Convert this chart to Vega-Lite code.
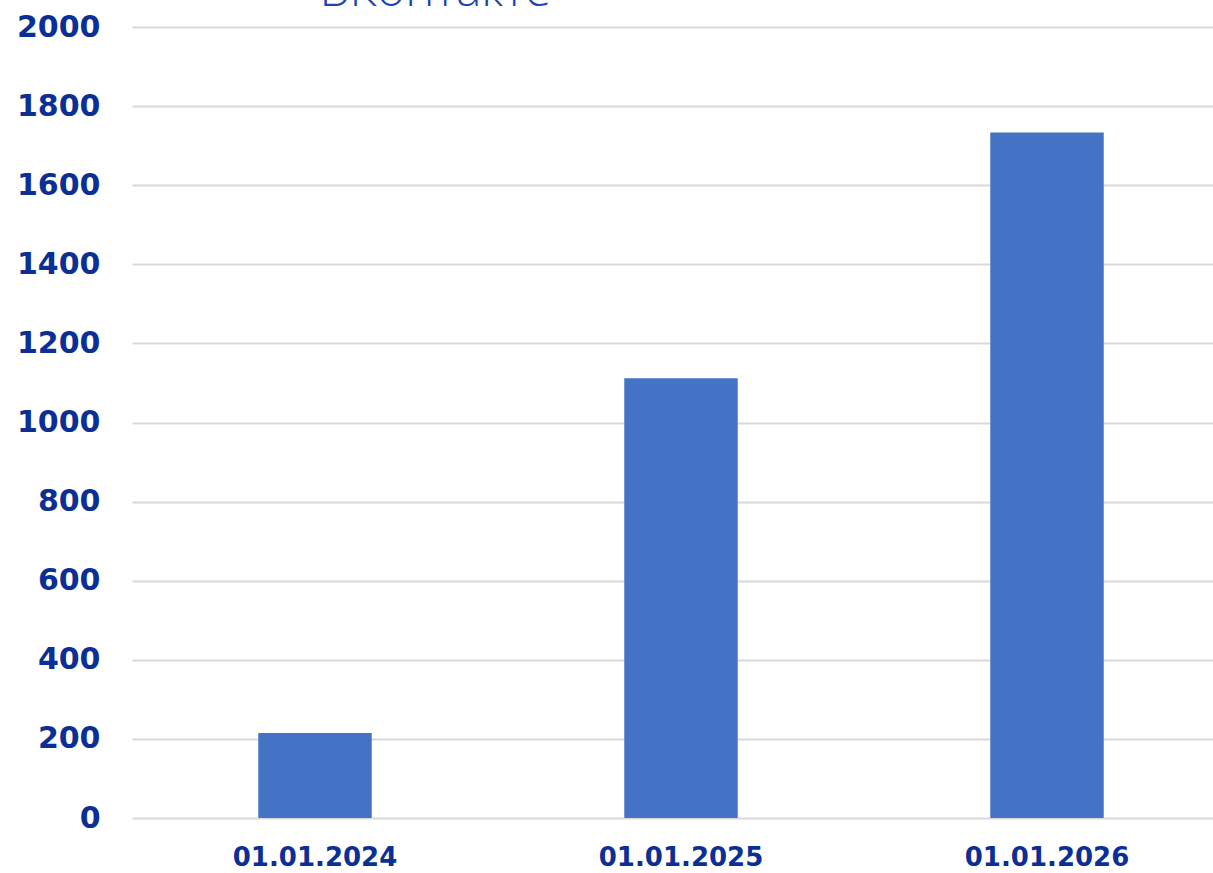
{
  "$schema": "https://vega.github.io/schema/vega-lite/v6.json",
  "autosize": {"type": "none"},
  "padding": {"left": 132, "top": 27, "right": 0, "bottom": 55},
  "width": 1081,
  "height": 791,
  "background": "#ffffff",
  "title": {
    "text": "ВКонтакте",
    "anchor": "start",
    "dx": 303,
    "dy": 42,
    "offset": 0,
    "baseline": "alphabetic",
    "font": "Open Sans",
    "fontSize": 48,
    "fontWeight": 300,
    "color": "#1f45b0"
  },
  "data": {
    "values": [
      {"date": "01.01.2024", "value": 215},
      {"date": "01.01.2025", "value": 1112},
      {"date": "01.01.2026", "value": 1733}
    ]
  },
  "mark": {"type": "bar", "color": "#4472C4", "width": {"band": 0.31}},
  "encoding": {
    "x": {
      "field": "date",
      "type": "nominal",
      "sort": null,
      "title": null,
      "scale": {"paddingInner": 0, "paddingOuter": 0, "range": [0, 1098]},
      "axis": {
        "domain": false,
        "ticks": false,
        "labelAngle": 0,
        "labelFont": "DejaVu Sans",
        "labelFontWeight": "bold",
        "labelFontSize": 26,
        "labelColor": "#0b2f96",
        "labelPadding": 26,
        "grid": false
      }
    },
    "y": {
      "field": "value",
      "type": "quantitative",
      "title": null,
      "scale": {"domain": [0, 2000]},
      "axis": {
        "values": [0, 200, 400, 600, 800, 1000, 1200, 1400, 1600, 1800, 2000],
        "format": "d",
        "domain": false,
        "ticks": false,
        "grid": true,
        "gridColor": "#d9d9d9",
        "gridWidth": 2,
        "labelFont": "DejaVu Sans",
        "labelFontWeight": "bold",
        "labelFontSize": 30,
        "labelColor": "#0b2f96",
        "labelPadding": 32
      }
    }
  },
  "config": {"view": {"stroke": null}}
}
